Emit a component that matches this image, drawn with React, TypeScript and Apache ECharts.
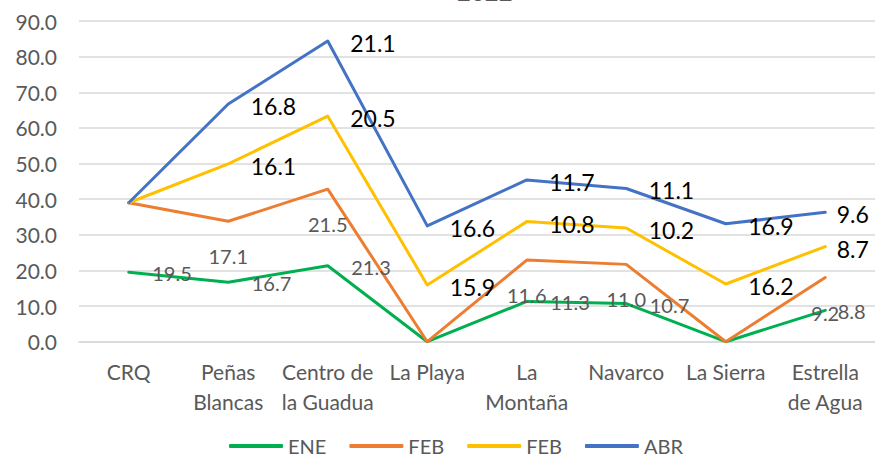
import React, { useEffect, useRef } from "react";
import * as echarts from "echarts";

const categories = [
  "CRQ",
  "Peñas\nBlancas",
  "Centro de\nla Guadua",
  "La Playa",
  "La\nMontaña",
  "Navarco",
  "La Sierra",
  "Estrella\nde Agua",
];
const seriesNames = ["ENE", "FEB", "FEB", "ABR"];
const eneValues = [19.5, 16.7, 21.3, 0, 11.3, 10.7, 0, 8.8];
const feb1Values = [19.5, 17.1, 21.5, 0, 11.6, 11.0, 0, 9.2];
const feb2Values = [0, 16.1, 20.5, 15.9, 10.8, 10.2, 16.2, 8.7];
const abrValues = [0, 16.8, 21.1, 16.6, 11.7, 11.1, 16.9, 9.6];
const yTicks = [0, 10, 20, 30, 40, 50, 60, 70, 80, 90];
const titleText = "2022";

const colors = ["#00b050", "#ed7d31", "#ffc000", "#4472c4"];
const FONT = "Lato, 'Liberation Sans', sans-serif";

export default function App() {
  const ref = useRef<HTMLDivElement>(null);
  useEffect(() => {
    if (!ref.current) return;
    const chart = echarts.init(ref.current, undefined, { renderer: "svg" });
    const fmt = (p: any) => {
      const v = typeof p.value === "number" ? p.value : Number(p.value);
      return v === 0 ? "" : v.toFixed(1);
    };
    const lastIdx = categories.length - 1;
    const mkData = (vals: number[], opts: (i: number, v: number) => any) =>
      vals.map((v, i) => {
        const o = opts(i, v);
        return o ? { value: v, label: o } : { value: v };
      });

    // unique internal ids so the legend keeps both "FEB" entries
    const ids = seriesNames.map((n, i) => `${n}#${i}`);
    const displayName = (id: string) => id.split("#")[0];

    const grayLabel = { color: "#595959", fontSize: 20, fontFamily: FONT };
    const blackLabel = { color: "#000000", fontSize: 23, fontFamily: FONT };

    const series = [
      {
        data: mkData(eneValues, (i, v) =>
          v === 0 ? { show: false } : i === lastIdx ? { distance: 12 } : null
        ),
        label: { show: true, position: "right", distance: 23, offset: [0, 1], formatter: fmt, ...grayLabel },
      },
      {
        data: mkData(feb1Values, (i, v) => (v === 0 || i === 0 ? { show: false } : null)),
        label: { show: true, position: "inside", offset: [0, 35], formatter: fmt, ...grayLabel },
      },
      {
        data: mkData(feb2Values, (i, v) =>
          v === 0 ? { show: false } : i === lastIdx ? { distance: 11 } : null
        ),
        label: { show: true, position: "right", distance: 22, offset: [0, 2], formatter: fmt, ...blackLabel },
      },
      {
        data: mkData(abrValues, (i, v) =>
          v === 0 ? { show: false } : i === lastIdx ? { distance: 11 } : null
        ),
        label: { show: true, position: "right", distance: 22, offset: [0, 2], formatter: fmt, ...blackLabel },
      },
    ].map((s, i) => ({
      ...s,
      name: ids[i],
      type: "line",
      stack: "total",
      symbol: "circle",
      symbolSize: 1,
      showSymbol: true,
      itemStyle: { color: colors[i] },
      lineStyle: { color: colors[i], width: 3, cap: "round", join: "round" },
      emphasis: { disabled: true },
    }));

    chart.setOption({
      animation: false,
      backgroundColor: "#ffffff",
      textStyle: { fontFamily: FONT },
      grid: { left: 79, top: 21, width: 798, height: 320.7, containLabel: false },
      graphic: [
        {
          type: "text",
          left: 457,
          top: -21,
          style: {
            text: titleText,
            fontSize: 24,
            fontFamily: FONT,
            fill: "#595959",
          },
        },
      ],
      legend: {
        left: 224,
        top: 431,
        padding: 5,
        itemWidth: 54,
        itemHeight: 4,
        itemGap: 23,
        icon: "roundRect",
        formatter: (name: string) => displayName(name),
        textStyle: { color: "#595959", fontSize: 20, fontFamily: FONT },
        data: ids.map((id, i) => ({ name: id, itemStyle: { color: colors[i] } })),
      },
      xAxis: {
        type: "category",
        data: categories,
        boundaryGap: true,
        axisLine: { show: true, lineStyle: { color: "#d9d9d9", width: 1.5 } },
        axisTick: { show: false },
        axisLabel: {
          color: "#595959",
          fontSize: 21,
          fontFamily: FONT,
          margin: 15,
          lineHeight: 30,
          interval: 0,
        },
      },
      yAxis: {
        type: "value",
        min: yTicks[0],
        max: yTicks[yTicks.length - 1],
        interval: yTicks[1] - yTicks[0],
        axisLine: { show: false },
        axisTick: { show: false },
        splitLine: { lineStyle: { color: "#d9d9d9", width: 1.5 } },
        axisLabel: {
          color: "#595959",
          fontSize: 21,
          fontFamily: FONT,
          margin: 22,
          formatter: (v: number) => v.toFixed(1),
        },
      },
      series,
    });
    return () => chart.dispose();
  }, []);
  return (
    <div
      ref={ref}
      style={{ position: "fixed", left: 0, top: 0, width: 875, height: 458, background: "#fff" }}
    />
  );
}
